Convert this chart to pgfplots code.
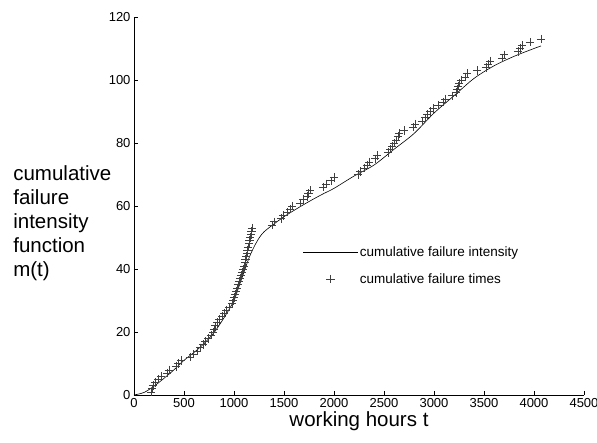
\documentclass[border=0pt]{standalone}
\usepackage{pgfplots}
\pgfplotsset{compat=1.18}
\usepackage{fontspec}
\setmainfont{Liberation Sans}

% observed cumulative failure count at each failure time
\pgfplotstableread{
t n
170 1
180 2
190 3
210 4
240 5
270 6
330 7
350 8
420 9
440 10
470 11
560 12
590 13
630 14
660 15
690 16
710 17
740 18
770 19
790 20
800 21
810 22
830 23
850 24
880 25
900 26
920 27
950 28
980 29
990 30
1000 31
1010 32
1020 33
1030 34
1040 35
1050 36
1060 37
1070 38
1080 39
1090 40
1100 41
1110 42
1115 43
1120 44
1130 45
1135 46
1140 47
1150 48
1155 49
1160 50
1170 51
1175 52
1180 53
1380 54
1400 55
1470 56
1490 57
1530 58
1560 59
1580 60
1660 61
1690 62
1730 63
1745 64
1760 65
1890 66
1920 67
1970 68
2000 69
2240 70
2260 71
2300 72
2330 73
2350 74
2410 75
2430 76
2540 77
2560 78
2580 79
2600 80
2620 81
2640 82
2650 83
2700 84
2790 85
2810 86
2880 87
2910 88
2930 89
2960 90
2990 91
3040 92
3090 93
3110 94
3180 95
3220 96
3230 97
3240 98
3250 99
3270 100
3310 101
3330 102
3430 103
3520 104
3540 105
3560 106
3680 107
3700 108
3840 109
3860 110
3880 111
3960 112
4070 113
}\failures

% fitted cumulative failure intensity m(t)
\pgfplotstableread{
t m
0 0
100 0.8
200 2.8
300 5.3
400 8
500 11
600 13.5
700 16.3
800 19.8
900 24.5
1000 30
1050 34.5
1100 39
1150 43.5
1200 47
1250 49.8
1300 51.8
1400 54.3
1500 56.6
1600 58.6
1700 60.5
1800 62.3
1900 64
2000 65.6
2200 69.5
2400 73
2600 78
2800 83
3000 89.5
3200 95
3400 100.5
3600 104.5
3800 107.5
4000 110
4070 110.8
}\intensity

\pgfplotsset{
  lineleg/.style={legend image code/.code={\draw[##1] (0pt,0pt) -- (54pt,0pt);}},
  markleg/.style={legend image code/.code={\draw[##1,mark repeat=2,mark phase=2] plot coordinates {(0pt,0pt)(27pt,0pt)(54pt,0pt)};}},
}

\begin{document}
\begin{tikzpicture}
\begin{axis}[
  scale only axis,
  width=450pt, height=378pt,
  xmin=0, xmax=4500, ymin=0, ymax=120,
  axis x line=bottom, axis y line=left,
  axis line style={-, line width=0.6pt},
  xtick={0,500,...,4500}, ytick={0,20,...,120},
  tick align=inside,
  major tick length=4pt,
  tick style={line width=0.6pt, black},
  scaled x ticks=false,
  xticklabel style={/pgf/number format/1000 sep={}},
  /pgf/number format/assume math mode=true,
  tick label style={font=\fontsize{13}{15}\selectfont},
  xlabel={working hours t},
  xlabel style={font=\fontsize{20.5}{24}\selectfont, yshift=3pt},
  ylabel={cumulative\\failure\\intensity\\function\\m(t)},
  ylabel style={rotate=-90, align=left, anchor=west,
    at={(axis description cs:-0.276,0.455)},
    font=\fontsize{20.5}{24}\selectfont},
  legend style={draw=none, fill=none, at={(axis cs:1690,41)}, anchor=west,
    font=\fontsize{13.5}{16}\selectfont, row sep=11pt, inner sep=0pt,
    nodes={inner sep=2pt}},
  legend cell align=left,
]
\addplot[black, line width=0.6pt, smooth, no marks, lineleg]
  table[x=t, y=m] {\intensity};
\addlegendentry{cumulative failure intensity}
\addplot[only marks, mark=+, mark size=4.2pt, black!75, line width=0.6pt, markleg]
  table[x=t, y=n] {\failures};
\addlegendentry{cumulative failure times}
\end{axis}
\pgfresetboundingbox
\path[use as bounding box] ([shift={(-134pt,-47pt)}]current axis.south west) rectangle ++(597pt,442pt);
\end{tikzpicture}
\end{document}
